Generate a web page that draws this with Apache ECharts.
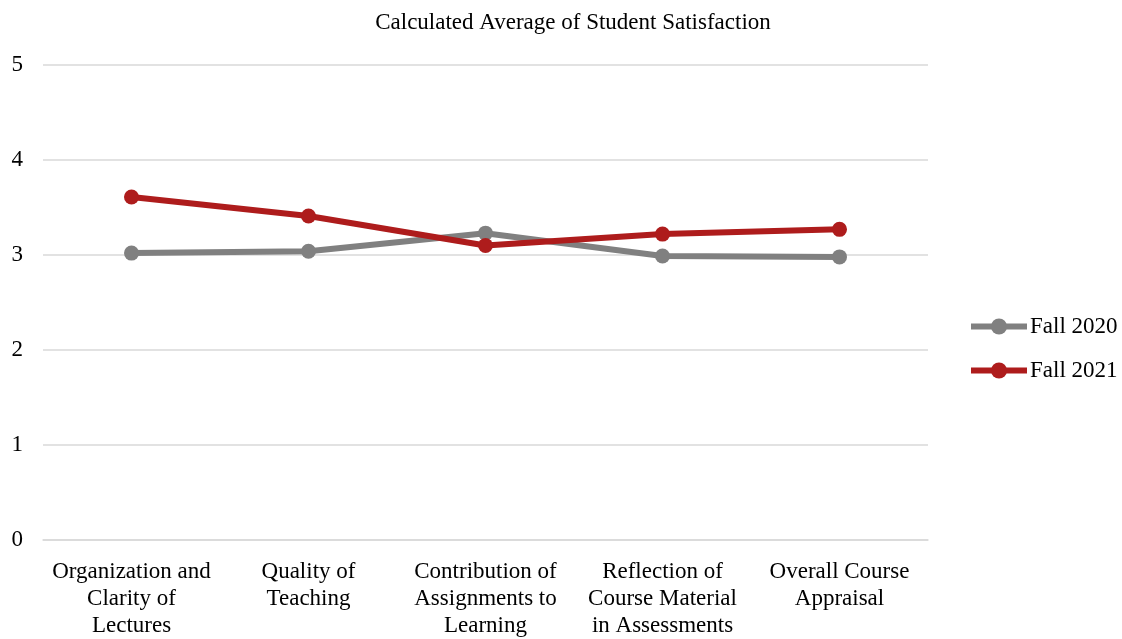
<!DOCTYPE html>
<html>
<head>
<meta charset="utf-8">
<script src="https://cdn.jsdelivr.net/npm/echarts@6/dist/echarts.min.js"></script>
<style>
  html, body { margin: 0; padding: 0; background: #fff; }
  #main { width: 1122px; height: 639px; }
</style>
</head>
<body>
<div id="main"></div>
<script>
var categories = [
  'Organization and\nClarity of\nLectures',
  'Quality of\nTeaching',
  'Contribution of\nAssignments to\nLearning',
  'Reflection of\nCourse Material\nin Assessments',
  'Overall Course\nAppraisal'
];
var fall2020 = [3.02, 3.04, 3.23, 2.99, 2.98];
var fall2021 = [3.61, 3.41, 3.10, 3.22, 3.27];

var font = '"Liberation Serif", "Times New Roman", serif';

var myChart = echarts.init(document.getElementById('main'));

var option = {
  backgroundColor: '#fff',
  title: {
    text: 'Calculated Average of Student Satisfaction',
    left: 568,
    textAlign: 'center',
    top: 6,
    textStyle: { fontFamily: font, fontSize: 23, fontWeight: 'normal', color: '#000' }
  },
  legend: {
    orient: 'vertical',
    left: 963,
    top: 310,
    itemGap: 21,
    itemWidth: 56,
    itemHeight: 20,
    lineStyle: { width: 6 },
    textStyle: { fontFamily: font, fontSize: 23, color: '#000', padding: [0, 0, 0, -2] },
    data: ['Fall 2020', 'Fall 2021']
  },
  grid: { left: 43, right: 194, top: 65, bottom: 95, containLabel: false },
  xAxis: {
    type: 'category',
    data: categories,
    axisLine: { show: true, lineStyle: { color: '#d9d9d9', width: 1.5 } },
    axisTick: { show: false },
    axisLabel: {
      fontFamily: font, fontSize: 23, color: '#000', lineHeight: 27,
      margin: 18, interval: 0
    }
  },
  yAxis: {
    type: 'value',
    min: 0,
    max: 5,
    interval: 1,
    axisLine: { show: false },
    axisTick: { show: false },
    axisLabel: { fontFamily: font, fontSize: 23, color: '#000', margin: 20 },
    splitLine: { lineStyle: { color: '#d9d9d9', width: 1.5 } }
  },
  series: [
    {
      name: 'Fall 2020',
      type: 'line',
      data: fall2020,
      color: '#808080',
      symbol: 'circle',
      symbolSize: 15,
      lineStyle: { width: 6, color: '#808080' },
      itemStyle: { color: '#808080' }
    },
    {
      name: 'Fall 2021',
      type: 'line',
      data: fall2021,
      color: '#ae1c1c',
      symbol: 'circle',
      symbolSize: 15,
      lineStyle: { width: 6, color: '#ae1c1c' },
      itemStyle: { color: '#ae1c1c' }
    }
  ]
};

myChart.setOption(option);
</script>
</body>
</html>
